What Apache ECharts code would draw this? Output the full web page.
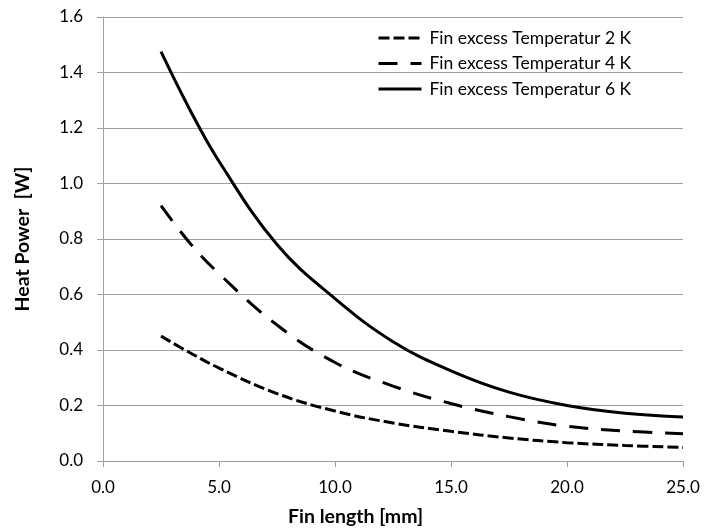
<!DOCTYPE html>
<html>
<head>
<meta charset="utf-8">
<script src="https://cdn.jsdelivr.net/npm/echarts@6/dist/echarts.min.js"></script>
<style>
html,body{margin:0;padding:0;background:#fff;}
#c{width:705px;height:531px;}
</style>
</head>
<body>
<div id="c"></div>
<script>
const finLength = [2.5, 3.75, 5, 7.5, 10, 12.5, 15, 17.5, 20, 22.5, 25];
const temp2K = [0.45, 0.39, 0.335, 0.243, 0.18, 0.137, 0.107, 0.083, 0.066, 0.056, 0.049];
const temp4K = [0.92, 0.785, 0.675, 0.49, 0.355, 0.27, 0.207, 0.16, 0.125, 0.108, 0.098];
const temp6K = [1.475, 1.265, 1.08, 0.78, 0.585, 0.43, 0.325, 0.248, 0.2, 0.172, 0.159];
const seriesNames = ['Fin excess Temperatur 2 K', 'Fin excess Temperatur 4 K', 'Fin excess Temperatur 6 K'];
const xTitle = 'Fin length [mm]';
const yTitle = 'Heat Power  [W]';

const FONT = 'Lato';
const pair = (ys) => finLength.map((x, i) => [x, ys[i]]);

const chart = echarts.init(document.getElementById('c'), null, {renderer: 'canvas'});
chart.setOption({
  animation: false,
  backgroundColor: '#fff',
  textStyle: {fontFamily: FONT},
  title: {
    text: xTitle,
    left: 283,
    top: 502,
    textStyle: {fontFamily: FONT, fontWeight: 'bold', fontSize: 19.5, color: '#000'}
  },
  grid: {left: 103, right: 22, top: 17, bottom: 70},
  legend: {
    orient: 'vertical',
    left: 372,
    top: 24,
    itemWidth: 43,
    itemHeight: 18,
    itemGap: 7.5,
    data: seriesNames,
    itemStyle: {opacity: 0},
    lineStyle: {width: 3},
    textStyle: {fontFamily: FONT, fontSize: 17.5, color: '#000', padding: [0, 0, 0, 3]}
  },
  xAxis: {
    type: 'value',
    min: 0, max: 25, interval: 5,
    axisLine: {show: true, lineStyle: {color: '#a0a0a0', width: 1}},
    axisTick: {show: true, length: 6, lineStyle: {color: '#a0a0a0'}},
    splitLine: {show: false},
    axisLabel: {margin: 18, fontFamily: FONT, fontSize: 17, color: '#000', formatter: v => v.toFixed(1)}
  },
  yAxis: {
    type: 'value',
    min: 0, max: 1.6, interval: 0.2,
    name: yTitle,
    nameLocation: 'middle',
    nameGap: 70,
    nameTextStyle: {fontFamily: FONT, fontWeight: 'bold', fontSize: 19.5, color: '#000'},
    axisLine: {show: true, lineStyle: {color: '#a0a0a0', width: 1}},
    axisTick: {show: true, length: 6, lineStyle: {color: '#a0a0a0'}},
    splitLine: {show: true, lineStyle: {color: '#a0a0a0', width: 1}},
    axisLabel: {margin: 20, fontFamily: FONT, fontSize: 17, color: '#000', formatter: v => v.toFixed(1)}
  },
  series: [
    {name: seriesNames[0], type: 'line', data: pair(temp2K), symbol: 'none', smooth: 0.4,
     lineStyle: {color: '#000', width: 3, type: [11, 4], cap: 'butt'}, itemStyle: {color: '#000'}},
    {name: seriesNames[1], type: 'line', data: pair(temp4K), symbol: 'none', smooth: 0.4,
     lineStyle: {color: '#000', width: 3, type: [19, 13], cap: 'butt'}, itemStyle: {color: '#000'}},
    {name: seriesNames[2], type: 'line', data: pair(temp6K), symbol: 'none', smooth: 0.4,
     lineStyle: {color: '#000', width: 3, type: 'solid'}, itemStyle: {color: '#000'}}
  ]
});
</script>
</body>
</html>
